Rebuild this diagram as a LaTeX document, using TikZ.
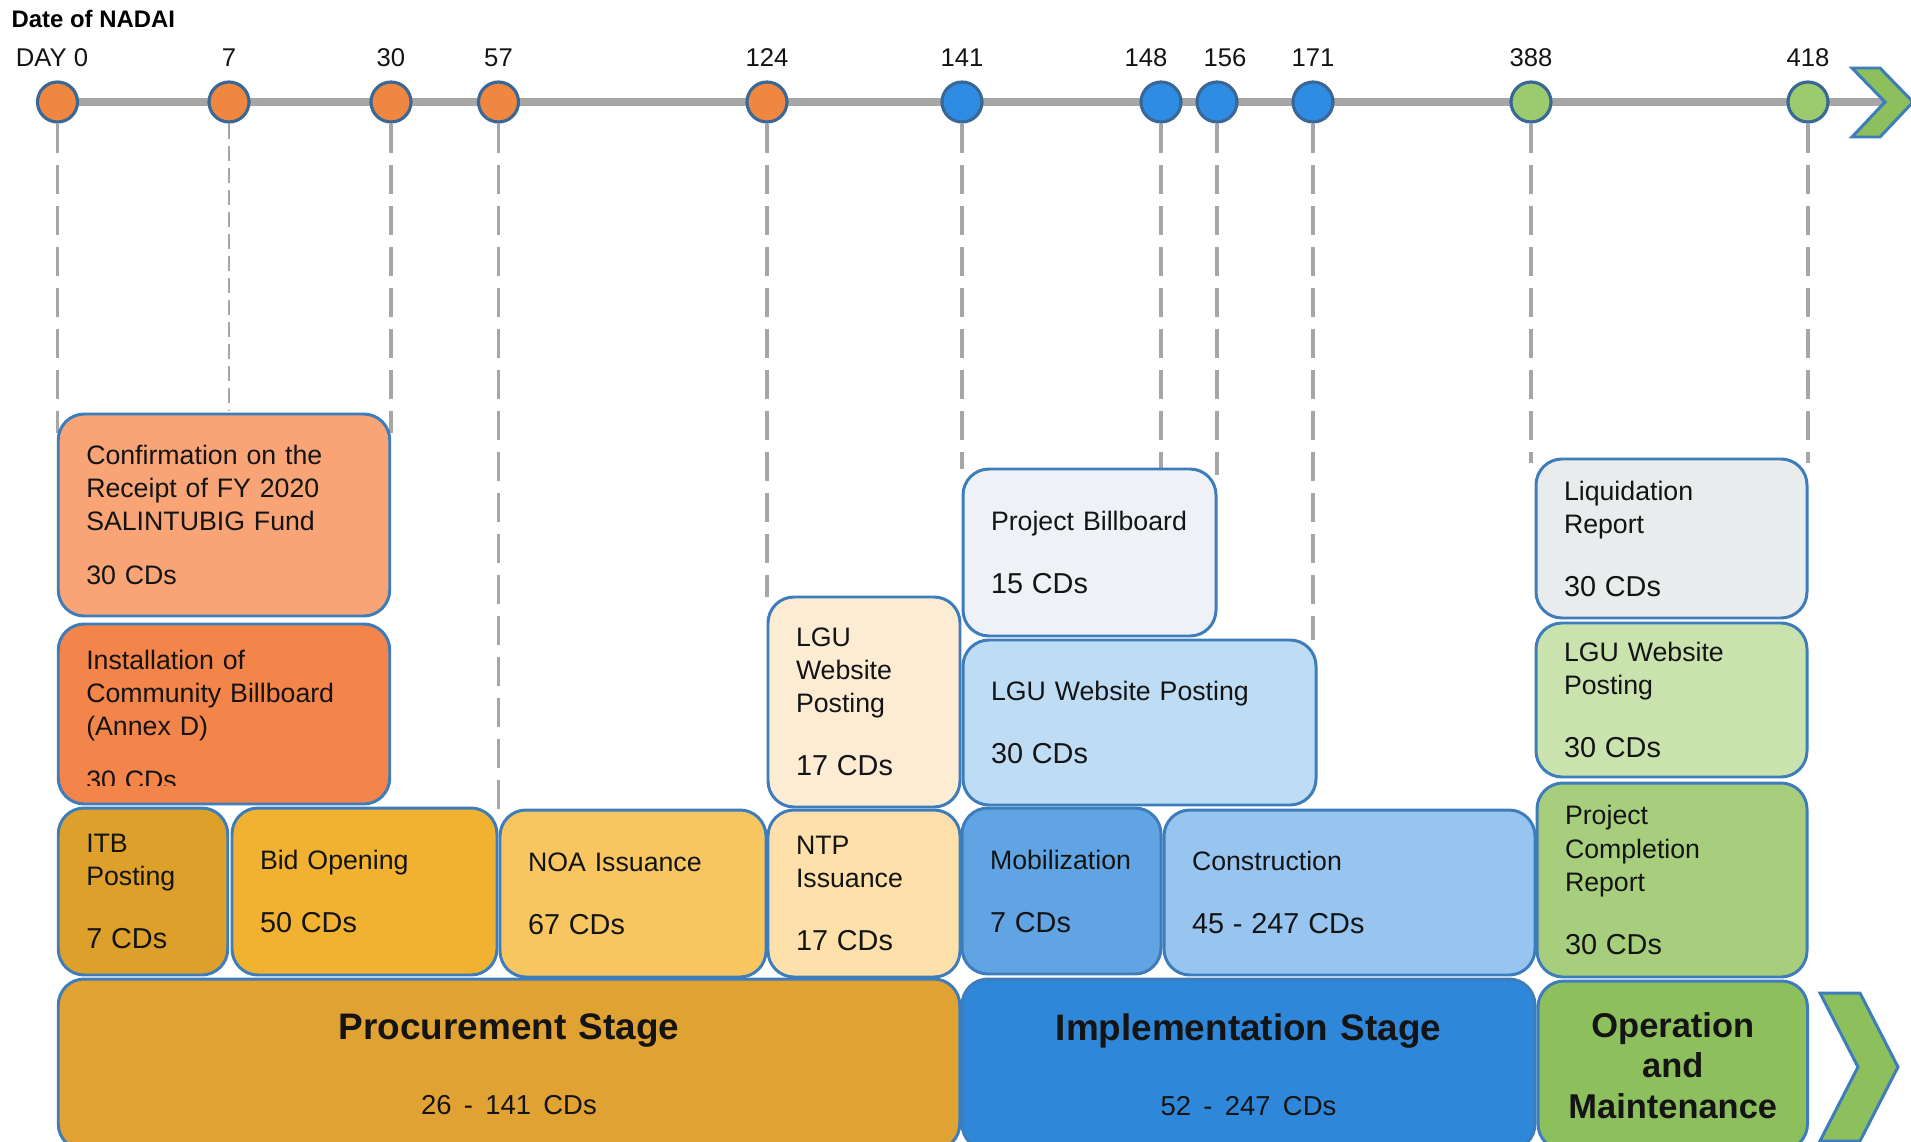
\documentclass[tikz,border=0pt]{standalone}
\usepackage{fontspec}
\setmainfont{Liberation Sans}
\usepackage{tikz}
\usetikzlibrary{positioning}
\pgfdeclarelayer{background}
\pgfsetlayers{background,main}
\hyphenpenalty=10000
\exhyphenpenalty=10000
\definecolor{ndline}{RGB}{166,166,166}
\definecolor{ndedge}{RGB}{61,125,187}
\definecolor{nddot}{RGB}{58,104,150}
\definecolor{ndorange}{RGB}{239,135,65}
\definecolor{ndblue}{RGB}{46,141,227}
\definecolor{ndgreen}{RGB}{155,203,110}
\definecolor{ndsalmon}{RGB}{248,164,118}
\definecolor{ndtangerine}{RGB}{243,132,74}
\definecolor{ndgold}{RGB}{221,160,42}
\definecolor{ndamber}{RGB}{240,178,48}
\definecolor{ndsand}{RGB}{248,198,96}
\definecolor{ndcream}{RGB}{253,224,170}
\definecolor{ndivory}{RGB}{253,236,212}
\definecolor{ndmist}{RGB}{238,242,247}
\definecolor{ndsky}{RGB}{191,220,245}
\definecolor{ndazure}{RGB}{96,164,227}
\definecolor{ndpale}{RGB}{151,197,240}
\definecolor{ndocean}{RGB}{47,135,217}
\definecolor{ndsilver}{RGB}{233,236,236}
\definecolor{ndmint}{RGB}{201,226,174}
\definecolor{ndleaf}{RGB}{167,206,125}
\definecolor{ndgrass}{RGB}{141,191,93}
\definecolor{ndprocure}{RGB}{224,162,50}
\newcommand{\tasksize}{\fontsize{7.6pt}{9.4pt}\selectfont}
\newcommand{\cdsize}{\fontsize{8.2pt}{9.4pt}\selectfont}
\newcommand{\stagesize}{\fontsize{10.5pt}{12pt}\selectfont\bfseries}
\newcommand{\rangesize}{\fontsize{7.8pt}{9.4pt}\selectfont\mdseries}
\newcommand{\omsize}{\fontsize{9.8pt}{11.5pt}\selectfont\bfseries}
\newcommand{\daysize}{\fontsize{7.3pt}{8.8pt}\selectfont}
\newcommand{\nadaisize}{\fontsize{6.8pt}{8pt}\selectfont\bfseries}

\begin{document}
\begin{tikzpicture}[x=0.1mm, y=-0.1mm,
    task/.style={rectangle, rounded corners=2.6mm, draw=ndedge, line width=0.85pt, inner xsep=2.8mm, inner ysep=0pt, align=left, font=\tasksize, text=black!92},
    stage/.style={task, inner xsep=1.5mm, align=center, font=\stagesize},
    dot/.style={circle, draw=nddot, line width=0.9pt, minimum size=4mm, inner sep=0pt},
    day/.style={font=\daysize, inner sep=0pt, text=black!92},
    drop/.style={ndline, line width=0.9pt, dash pattern=on 2.9mm off 1.2mm},
    axis/.style={ndline, line width=2pt},
    chev/.style={fill=ndgrass, draw=ndedge, line width=0.85pt, line join=miter},
    node distance=1.3mm
]
  \useasboundingbox (0,0) rectangle (1911,1142);
  \clip (0,0) rectangle (1911,1142);

  \node[anchor=base west, font=\nadaisize, inner sep=0pt] (nadai) at (11,27) {Date of NADAI};

  % milestones along the time line
  \foreach \name/\x/\col/\txt/\dx in {0/57.5/ndorange/DAY 0/-0.55, 7/229/ndorange/7/0, 30/391/ndorange/30/0,
      57/498.5/ndorange/57/0, 124/767/ndorange/124/0, 141/962/ndblue/141/0, 148/1161/ndblue/148/-1.5,
      156/1217/ndblue/156/0.8, 171/1313/ndblue/171/0, 388/1531/ndgreen/388/0, 418/1808/ndgreen/418/0}{
    \node[dot, fill=\col] (d\name) at (\x,102) {};
    \node[day, above=of d\name, xshift=\dx mm] (l\name) {\txt};
  }
  \coordinate (notch) at (1885,102);
  \draw[chev] (1852,68) -- (1880,68) -- (1913,102) -- (1880,137) -- (1852,137) -- (notch) -- cycle;

  \begin{pgfonlayer}{background}
    \draw[axis] (d0.center) -- (notch);
    \foreach \name/\y in {0/433, 30/433, 57/810, 124/597, 141/469, 148/470, 156/475, 171/640, 388/463, 418/463}
      \draw[drop] (d\name) -- (d\name |- 0,\y);
    \draw[drop, line width=0.5pt, dash pattern=on 1.5mm off 0.7mm] (d7) -- (d7 |- 0,411);
  \end{pgfonlayer}

  % procurement tasks
  \node[task, fill=ndsalmon, minimum width=33.15mm, minimum height=20.2mm, text width=27.55mm] (confirm) at (224,515)
    {Confirmation on the\\Receipt of FY 2020\\SALINTUBIG Fund\\[2.1mm]30 CDs};
  \node[task, fill=ndtangerine, minimum width=33.15mm, minimum height=18mm] (commbb) at (224,714) {};
  \begin{scope}
    \clip (commbb.north west) rectangle (390,785);
    \node[task, draw=none, minimum width=33.15mm, minimum height=18mm, text width=27.55mm] (commtxt) at (224,720)
      {Installation of\\Community Billboard\\(Annex D)\\[2.1mm]30 CDs};
  \end{scope}
  \node[task, fill=ndgold, minimum width=16.95mm, minimum height=16.7mm, text width=11.35mm] (itb) at (143,891.5)
    {ITB\\Posting\\[3mm]\cdsize 7 CDs};
  \node[task, fill=ndamber, minimum width=26.5mm, minimum height=16.7mm, text width=20.9mm] (bid) at (364.5,891.5)
    {Bid Opening\\[3mm]\cdsize 50 CDs};
  \node[task, fill=ndsand, minimum width=26.6mm, minimum height=16.7mm, text width=21mm] (noa) at (633,893.5)
    {NOA Issuance\\[3mm]\cdsize 67 CDs};
  \node[task, fill=ndcream, minimum width=19.2mm, minimum height=16.7mm, text width=13.6mm] (ntp) at (864,893.5)
    {NTP\\Issuance\\[3mm]\cdsize 17 CDs};
  \node[task, fill=ndivory, minimum width=19.2mm, minimum height=21mm, text width=13.6mm] (lgup) at (864,702)
    {LGU\\Website\\Posting\\[3mm]\cdsize 17 CDs};

  % implementation tasks
  \node[task, fill=ndmist, minimum width=25.3mm, minimum height=16.7mm, text width=19.7mm] (projbb) at (1089.5,552.5)
    {Project~Billboard\\[3mm]\cdsize 15 CDs};
  \node[task, fill=ndsky, minimum width=35.3mm, minimum height=16.5mm, text width=29.7mm] (lgui) at (1139.5,722.5)
    {LGU Website Posting\\[3mm]\cdsize 30 CDs};
  \node[task, fill=ndazure, minimum width=19.9mm, minimum height=16.6mm, text width=14.3mm] (mobil) at (1061.5,891)
    {Mobilization\\[3mm]\cdsize 7 CDs};
  \node[task, fill=ndpale, minimum width=37.1mm, minimum height=16.5mm, text width=31.5mm] (constr) at (1349.5,892.5)
    {Construction\\[3mm]\cdsize 45 - 247 CDs};

  % operation tasks
  \node[task, fill=ndsilver, minimum width=27.1mm, minimum height=15.9mm, text width=21.5mm] (liquid) at (1671.5,538.5)
    {Liquidation\\Report\\[3mm]\cdsize 30 CDs};
  \node[task, fill=ndmint, minimum width=27.1mm, minimum height=15.4mm, text width=21.5mm] (lguo) at (1671.5,700)
    {LGU Website\\Posting\\[3mm]\cdsize 30 CDs};
  \node[task, fill=ndleaf, minimum width=27mm, minimum height=19.4mm, text width=21.4mm] (pcr) at (1672,880)
    {Project\\Completion\\Report\\[3mm]\cdsize 30 CDs};

  % stages
  \node[stage, fill=ndprocure, minimum width=90.15mm, minimum height=17.1mm, text width=87.15mm] (procure) at (509,1064.5)
    {Procurement Stage\\[3.3mm]\rangesize 26 - 141 CDs};
  \node[stage, fill=ndocean, minimum width=57.3mm, minimum height=17.1mm, text width=54.3mm] (implem) at (1248.5,1064.5)
    {Implementation Stage\\[3.3mm]\rangesize 52 - 247 CDs};
  \node[stage, font=\omsize, fill=ndgrass, minimum width=26.95mm, minimum height=16.9mm, text width=23.95mm] (opmaint) at (1672.75,1065.5)
    {Operation\\and\\Maintenance};
  \draw[chev] (1820,993) -- (1860,993) -- (1898,1067) -- (1860,1141) -- (1820,1141) -- (1858,1067) -- cycle;
\end{tikzpicture}
\end{document}
